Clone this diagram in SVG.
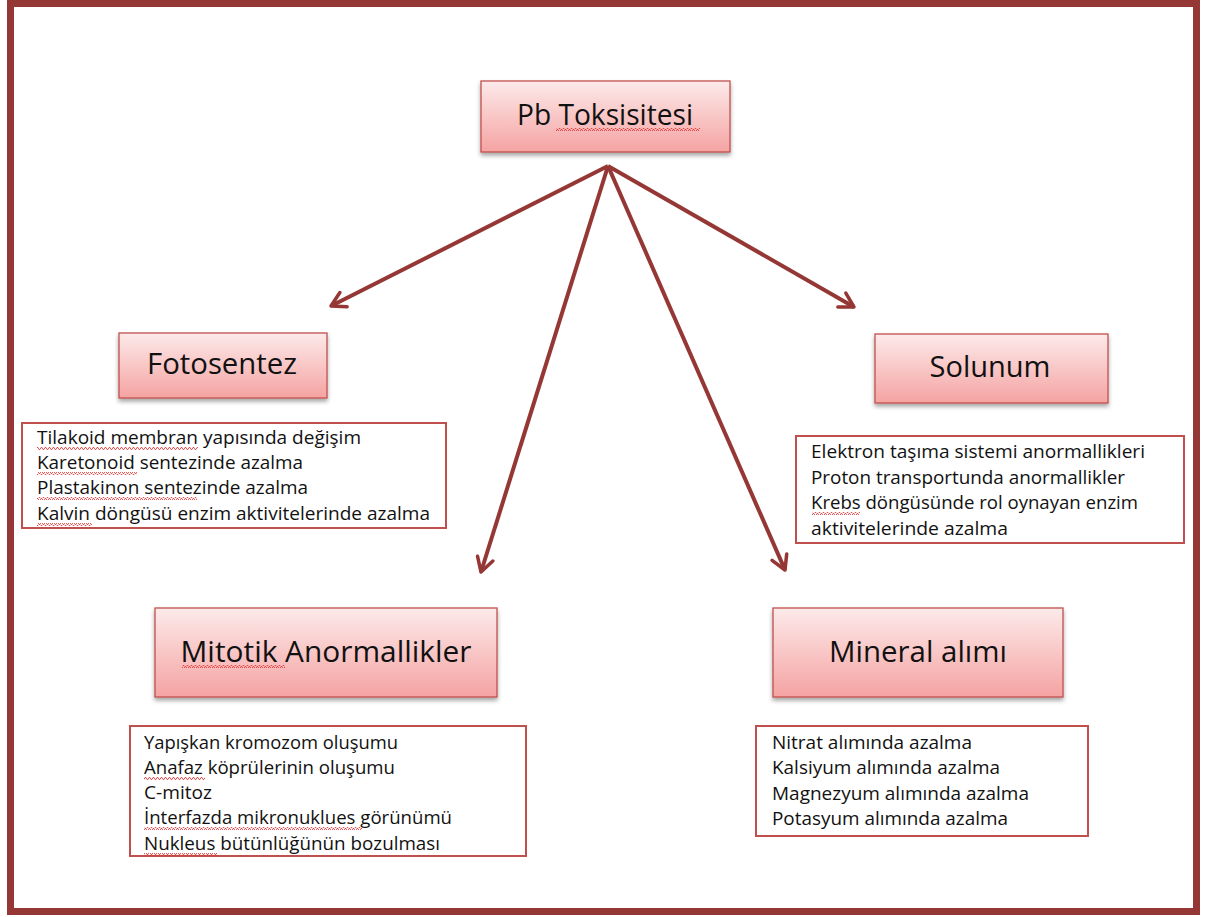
<svg xmlns="http://www.w3.org/2000/svg" width="1215" height="917" viewBox="0 0 1215 917">
<defs>
<linearGradient id="g" x1="0" y1="0" x2="0" y2="1">
<stop offset="0" stop-color="#fdeaea"/>
<stop offset="1" stop-color="#f4a3a2"/>
</linearGradient>
<filter id="sh" x="-10%" y="-10%" width="120%" height="140%">
<feDropShadow dx="0" dy="3" stdDeviation="2" flood-color="#000" flood-opacity="0.35"/>
</filter>
<marker id="ah" viewBox="0 0 20 20" refX="17" refY="10" markerWidth="20" markerHeight="20" markerUnits="userSpaceOnUse" orient="auto">
<path d="M3,2 L17,10 L3,18" fill="none" stroke="#953735" stroke-width="3.5" stroke-linecap="round" stroke-linejoin="round"/>
</marker>
<pattern id="wave" width="4" height="3" patternUnits="userSpaceOnUse">
<path d="M0,2.5 L1,0.5 L2,0.5 L3,2.5 L4,2.5" fill="none" stroke="#e03030" stroke-width="0.8"/>
</pattern>
</defs>
<style>
.frame{fill:none;stroke:#953735;stroke-width:7}
.node{fill:url(#g);stroke:#c0504d;stroke-width:1.3;filter:url(#sh)}
.list{fill:#fff;stroke:#c0504d;stroke-width:2}
.t{font-family:"Open Sans",sans-serif;fill:#111;text-anchor:middle;font-size:29px}
.l{font-family:"Open Sans",sans-serif;fill:#111;font-size:18.5px}
.c{stroke:#953735;stroke-width:4;fill:none;marker-end:url(#ah)}
.sq{fill:url(#wave)}
</style>
<rect x="0" y="0" width="1215" height="917" fill="#fff"/>
<rect class="frame" x="10.5" y="3.5" width="1186" height="908"/>
<g id="connectors">
<line class="c" x1="608" y1="166" x2="331" y2="306"/>
<line class="c" x1="608" y1="166" x2="481" y2="572"/>
<line class="c" x1="608" y1="166" x2="785" y2="570"/>
<line class="c" x1="608" y1="166" x2="854" y2="307"/>
</g>
<g id="n-pb">
<rect class="node" x="481" y="81" width="249" height="71"/>
<text class="t" x="605" y="125" textLength="176" lengthAdjust="spacingAndGlyphs">Pb Toksisitesi</text>
<rect class="sq" x="556" y="128" width="144" height="3"/>
</g>
<g id="n-foto">
<rect class="node" x="119" y="333" width="208" height="65"/>
<text class="t" x="222" y="374" textLength="150" lengthAdjust="spacingAndGlyphs">Fotosentez</text>
</g>
<g id="n-sol">
<rect class="node" x="875" y="334" width="233" height="69"/>
<text class="t" x="990" y="377" textLength="121" lengthAdjust="spacingAndGlyphs">Solunum</text>
</g>
<g id="n-mit">
<rect class="node" x="155" y="608" width="342" height="89"/>
<text class="t" x="326" y="662" textLength="291" lengthAdjust="spacingAndGlyphs">Mitotik Anormallikler</text>
<rect class="sq" x="182" y="665" width="103" height="3"/>
</g>
<g id="n-min">
<rect class="node" x="773" y="608" width="290" height="89"/>
<text class="t" x="918" y="662" textLength="178" lengthAdjust="spacingAndGlyphs">Mineral alımı</text>
</g>
<g id="l-foto">
<rect class="list" x="22" y="423" width="424" height="105"/>
<text class="l" x="37" y="444" textLength="324" lengthAdjust="spacingAndGlyphs">Tilakoid membran yapısında değişim</text>
<text class="l" x="37" y="469" textLength="266" lengthAdjust="spacingAndGlyphs">Karetonoid sentezinde azalma</text>
<text class="l" x="37" y="494" textLength="271" lengthAdjust="spacingAndGlyphs">Plastakinon sentezinde azalma</text>
<text class="l" x="37" y="520" textLength="393" lengthAdjust="spacingAndGlyphs">Kalvin döngüsü enzim aktivitelerinde azalma</text>
<rect class="sq" x="37" y="447" width="161" height="3"/>
<rect class="sq" x="37" y="472" width="100" height="3"/>
<rect class="sq" x="37" y="497" width="160" height="3"/>
<rect class="sq" x="37" y="523" width="55" height="3"/>
</g>
<g id="l-sol">
<rect class="list" x="796" y="436" width="388" height="107"/>
<text class="l" x="811" y="458" textLength="334" lengthAdjust="spacingAndGlyphs">Elektron taşıma sistemi anormallikleri</text>
<text class="l" x="811" y="484" textLength="314" lengthAdjust="spacingAndGlyphs">Proton transportunda anormallikler</text>
<text class="l" x="811" y="509" textLength="327" lengthAdjust="spacingAndGlyphs">Krebs döngüsünde rol oynayan enzim</text>
<text class="l" x="811" y="535" textLength="197" lengthAdjust="spacingAndGlyphs">aktivitelerinde azalma</text>
<rect class="sq" x="812" y="512" width="48" height="3"/>
</g>
<g id="l-mit">
<rect class="list" x="130" y="726" width="396" height="130"/>
<text class="l" x="144" y="749" textLength="254" lengthAdjust="spacingAndGlyphs">Yapışkan kromozom oluşumu</text>
<text class="l" x="144" y="774" textLength="251" lengthAdjust="spacingAndGlyphs">Anafaz köprülerinin oluşumu</text>
<text class="l" x="144" y="799" textLength="68" lengthAdjust="spacingAndGlyphs">C-mitoz</text>
<text class="l" x="144" y="824" textLength="308" lengthAdjust="spacingAndGlyphs">İnterfazda mikronuklues görünümü</text>
<text class="l" x="144" y="850" textLength="296" lengthAdjust="spacingAndGlyphs">Nukleus bütünlüğünün bozulması</text>
<rect class="sq" x="144" y="777" width="61" height="3"/>
<rect class="sq" x="144" y="827" width="218" height="3"/>
<rect class="sq" x="144" y="853" width="73" height="3"/>
</g>
<g id="l-min">
<rect class="list" x="756" y="726" width="332" height="110"/>
<text class="l" x="772" y="749" textLength="200" lengthAdjust="spacingAndGlyphs">Nitrat alımında azalma</text>
<text class="l" x="772" y="774" textLength="228" lengthAdjust="spacingAndGlyphs">Kalsiyum alımında azalma</text>
<text class="l" x="772" y="800" textLength="257" lengthAdjust="spacingAndGlyphs">Magnezyum alımında azalma</text>
<text class="l" x="772" y="825" textLength="236" lengthAdjust="spacingAndGlyphs">Potasyum alımında azalma</text>
</g>
</svg>
